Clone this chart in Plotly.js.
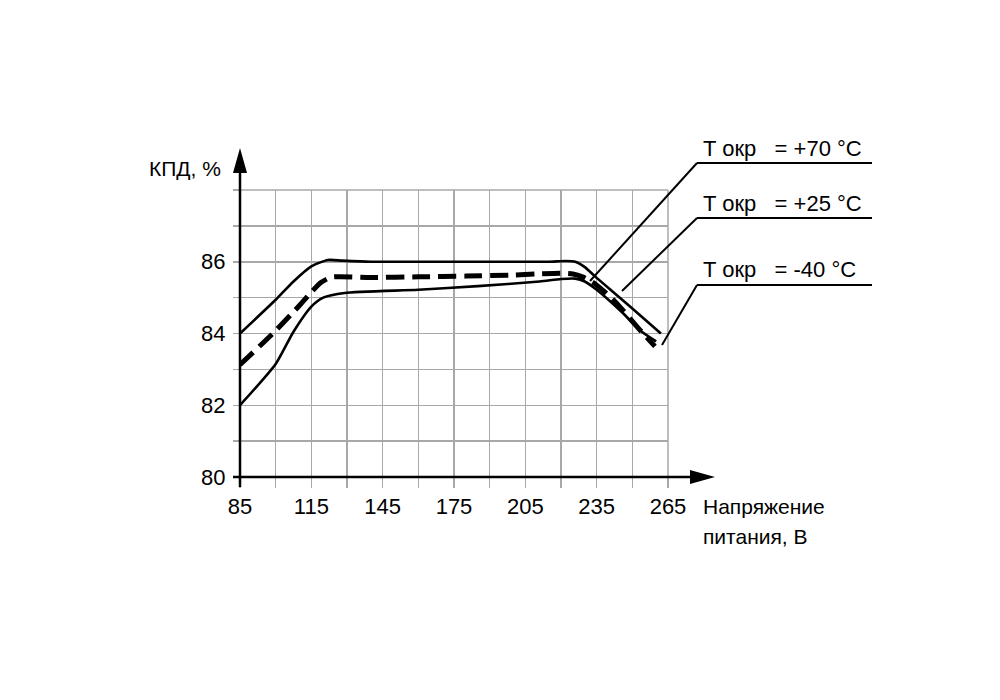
<!DOCTYPE html>
<html>
<head>
<meta charset="utf-8">
<script src="https://cdn.plot.ly/plotly-3.0.1.min.js"></script>
<style>html,body{margin:0;padding:0;background:#fff;}#chart{width:1000px;height:700px;}</style>
</head>
<body>
<div id="chart"></div>
<script>
// ---- data ----
const xTickVals = [85, 100, 115, 130, 145, 160, 175, 190, 205, 220, 235, 250, 265];
const xTickText = ['85', '', '115', '', '145', '', '175', '', '205', '', '235', '', '265'];
const yTickVals = [80, 81, 82, 83, 84, 85, 86, 87, 88];
const yTickText = ['80', '', '82', '', '84', '', '86', '', ''];

const t25X = [85, 100, 107.5, 115, 122, 128, 140, 160, 180, 200, 215, 222, 226, 230, 235, 250, 262];
const t25Y = [84.0, 84.94, 85.45, 85.87, 86.05, 86.03, 86.0, 86.0, 86.0, 86.0, 86.0, 86.02, 86.0, 85.85, 85.55, 84.7, 84.0];

const t70X = [85, 100, 110, 115, 119, 123.5, 140, 160, 180, 200, 210, 220, 225, 229, 234, 242, 246, 252.5, 259.5];
const t70Y = [83.13, 84.08, 84.78, 85.15, 85.42, 85.57, 85.56, 85.58, 85.6, 85.63, 85.66, 85.68, 85.66, 85.58, 85.4, 84.94, 84.65, 84.15, 83.64];

const tm40X = [85, 100, 107.5, 115, 120, 129, 160, 185, 211, 220, 226, 230, 235, 246, 253, 260];
const tm40Y = [82.0, 83.15, 84.05, 84.75, 85.0, 85.13, 85.22, 85.32, 85.45, 85.52, 85.53, 85.45, 85.22, 84.57, 84.1, 83.78];

const labels = ['T окр\u00a0\u00a0 = +70 °C', 'T окр\u00a0\u00a0 = +25 °C', 'T окр\u00a0\u00a0 = -40 °C'];
const yTitle = 'КПД, %';
const xTitle1 = 'Напряжение';
const xTitle2 = 'питания, В';

// ---- geometry helpers (pixel -> paper) ----
const L = 240, R = 668, T = 190, B = 477;
const px = x => (x - L) / (R - L);
const py = y => (B - y) / (B - T);

const FONT = 'Liberation Sans, Arial, sans-serif';

const traces = [
  {x: t25X, y: t25Y, mode: 'lines', line: {color: '#000', width: 2.6, shape: 'spline', smoothing: 0.6}, showlegend: false, hoverinfo: 'skip'},
  {x: tm40X, y: tm40Y, mode: 'lines', line: {color: '#000', width: 2.6, shape: 'spline', smoothing: 0.6}, showlegend: false, hoverinfo: 'skip'},
  {x: t70X, y: t70Y, mode: 'lines', line: {color: '#000', width: 5, dash: '18px,8px', shape: 'spline', smoothing: 0.6}, showlegend: false, hoverinfo: 'skip'}
];

const line = (x0, y0, x1, y1, color, width) => ({type: 'line', xref: 'paper', yref: 'paper',
  x0: px(x0), y0: py(y0), x1: px(x1), y1: py(y1), line: {color: color, width: width}, layer: 'above'});

const shapes = [
  // top & right grid border
  line(L, T, R, T, '#a8a8a8', 1.5),
  line(R, T, R, B, '#a8a8a8', 1.5),
  // axes
  line(233, B, 700, B, '#000', 2.5),
  line(L, 487, L, 165, '#000', 2.5),
  // arrow heads
  {type: 'path', xref: 'paper', yref: 'paper',
   path: `M ${px(715)} ${py(B)} L ${px(690)} ${py(B - 7)} L ${px(690)} ${py(B + 7)} Z`,
   fillcolor: '#000', line: {width: 0}, layer: 'above'},
  {type: 'path', xref: 'paper', yref: 'paper',
   path: `M ${px(L)} ${py(148)} L ${px(L - 7)} ${py(173)} L ${px(L + 7)} ${py(173)} Z`,
   fillcolor: '#000', line: {width: 0}, layer: 'above'},
  // leaders and underlines
  line(697, 163, 872, 163, '#000', 2),
  line(697, 163, 590, 281, '#000', 2),
  line(697, 218, 872, 218, '#000', 2),
  line(697, 218, 622, 291, '#000', 2),
  line(697, 285, 872, 285, '#000', 2),
  line(697, 285, 662, 345, '#000', 2)
];

const ann = (text, x, y, xanchor, size) => ({text: text, xref: 'paper', yref: 'paper', x: px(x), y: py(y),
  xanchor: xanchor, yanchor: 'middle', showarrow: false, font: {family: FONT, size: size, color: '#000'}});

const annotations = [
  ann(labels[0], 701, 148, 'left', 22),
  ann(labels[1], 701, 203, 'left', 22),
  ann(labels[2], 701, 269, 'left', 22),
  ann(yTitle, 223, 168, 'right', 21),
  ann(xTitle1, 701, 506, 'left', 21),
  ann(xTitle2, 701, 536, 'left', 21)
];

const layout = {
  width: 1000, height: 700,
  margin: {l: L, r: 1000 - R, t: T, b: 700 - B, pad: 0},
  paper_bgcolor: '#fff', plot_bgcolor: '#fff',
  font: {family: FONT, size: 21, color: '#000'},
  xaxis: {range: [85, 265], tickmode: 'array', tickvals: xTickVals, ticktext: xTickText,
    showgrid: true, gridcolor: '#a8a8a8', gridwidth: 1.5, zeroline: false, showline: false,
    ticks: 'outside', ticklen: 10, tickcolor: '#a8a8a8', tickwidth: 1.5, ticklabelstandoff: 0,
    tickfont: {family: FONT, size: 22, color: '#000'}, fixedrange: true},
  yaxis: {range: [80, 88], tickmode: 'array', tickvals: yTickVals, ticktext: yTickText,
    showgrid: true, gridcolor: '#a8a8a8', gridwidth: 1.5, zeroline: false, showline: false,
    ticks: 'outside', ticklen: 6, tickcolor: '#a8a8a8', tickwidth: 1.5, ticklabelstandoff: 3,
    tickfont: {family: FONT, size: 22, color: '#000'}, fixedrange: true},
  shapes: shapes,
  annotations: annotations
};

Plotly.newPlot('chart', traces, layout, {staticPlot: true, displayModeBar: false});
</script>
</body>
</html>
